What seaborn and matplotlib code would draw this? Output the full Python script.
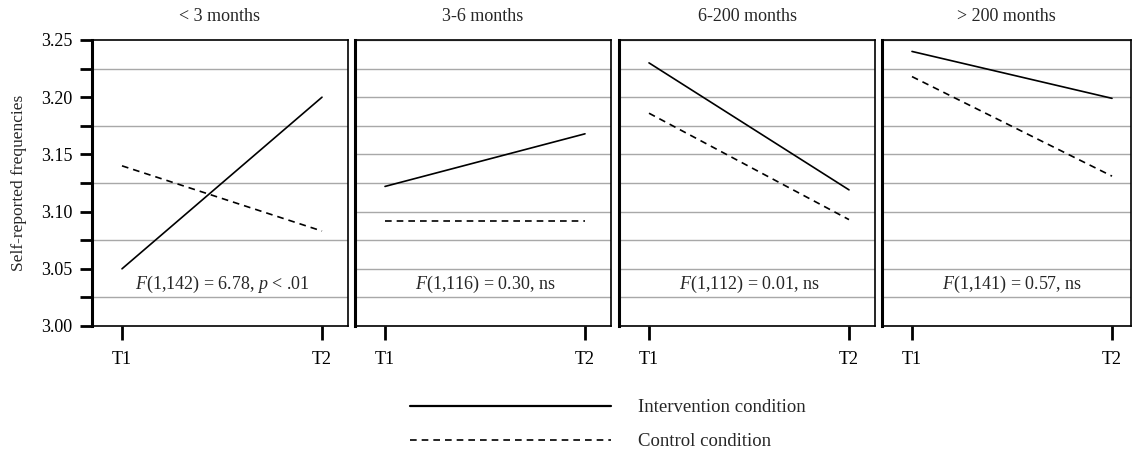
import matplotlib
matplotlib.use("Agg")
import matplotlib.pyplot as plt
from matplotlib.lines import Line2D
import numpy as np
import pandas as pd
import seaborn as sns

# ---- data ----
groups = ["< 3 months", "3-6 months", "6-200 months", "> 200 months"]
times = ["T1", "T2"]
intervention = [[3.050, 3.200], [3.122, 3.168], [3.230, 3.119], [3.240, 3.199]]
control = [[3.140, 3.083], [3.092, 3.092], [3.186, 3.093], [3.218, 3.131]]
stats_text = [
    "$F$(1,142) = 6.78, $p$ < .01",
    "$F$(1,116) = 0.30, ns",
    "$F$(1,112) = 0.01, ns",
    "$F$(1,141) = 0.57, ns",
]
cond_labels = ["Intervention condition", "Control condition"]
y_ticks = [3.00, 3.05, 3.10, 3.15, 3.20, 3.25]

rows = []
for g, iv, cv in zip(groups, intervention, control):
    for t, a, b in zip(range(len(times)), iv, cv):
        rows.append(dict(group=g, time=t, value=a, condition=cond_labels[0]))
        rows.append(dict(group=g, time=t, value=b, condition=cond_labels[1]))
df = pd.DataFrame(rows)

sns.set_style("white")
plt.rcParams["font.family"] = ["Liberation Serif", "DejaVu Serif"]
plt.rcParams["mathtext.fontset"] = "custom"
plt.rcParams["mathtext.rm"] = "Liberation Serif"
plt.rcParams["mathtext.it"] = "Liberation Serif:italic"

fig = plt.figure(figsize=(11.32, 4.51), dpi=100)
W, H = 1132, 451
lefts = [92, 355, 619, 882]
pw = 256
top_px, bot_px = 40, 326

dash_map = {cond_labels[0]: "", cond_labels[1]: (4, 3)}
for i, g in enumerate(groups):
    w = pw if i < 3 else (W - 1 - lefts[i])
    ax = fig.add_axes([lefts[i] / W, 1 - bot_px / H, w / W, (bot_px - top_px) / H])
    sub = df[df.group == g]
    sns.lineplot(data=sub, x="time", y="value", style="condition",
                 dashes=dash_map, color="black", linewidth=1.2,
                 legend=False, ax=ax)
    ax.set_xlim(-0.15, 1.13 if i < 3 else 1.095)
    ax.set_ylim(3.0, 3.25)
    ax.set_yticks(np.arange(3.0, 3.2501, 0.025), minor=True)
    ax.yaxis.grid(True, which="minor", color="#a8a8a8", linewidth=1.0)
    ax.set_axisbelow(True)
    ax.set_xticks(range(len(times)))
    ax.set_xticklabels(times, fontsize=13)
    ax.tick_params(axis="x", direction="out", length=10, width=2, pad=8,
                   bottom=True, colors="black")
    ax.set_xlabel("")
    ax.set_ylabel("")
    ax.set_title(g, fontsize=13, pad=14)
    for s in ["top", "right", "bottom"]:
        ax.spines[s].set_linewidth(1.2)
        ax.spines[s].set_color("black")
    ax.spines["left"].set_linewidth(2.2)
    ax.spines["left"].set_color("black")
    ax.text(0.5, 3.036, stats_text[i], ha="center", va="center", fontsize=13)
    if i == 0:
        ax.set_yticks(y_ticks)
        ax.set_yticklabels([f"{v:.2f}" for v in y_ticks], fontsize=13)
        ax.tick_params(axis="y", which="both", direction="out", length=9,
                       width=2, left=True, pad=5, colors="black")
        ax.set_ylabel("Self-reported frequencies", fontsize=12.5, labelpad=10)
    else:
        ax.set_yticks([])
        ax.tick_params(axis="y", which="both", left=False, labelleft=False)

handles = [Line2D([], [], color="black", lw=1.6, linestyle="-"),
           Line2D([], [], color="black", lw=1.2, linestyle=(0, (4, 3)))]
fig.legend(handles, cond_labels, loc="center", bbox_to_anchor=(0.537, 0.058),
           frameon=False, fontsize=13.5, handlelength=10.7, handletextpad=1.45,
           labelspacing=0.9)

fig.savefig("out.png", dpi=100)
